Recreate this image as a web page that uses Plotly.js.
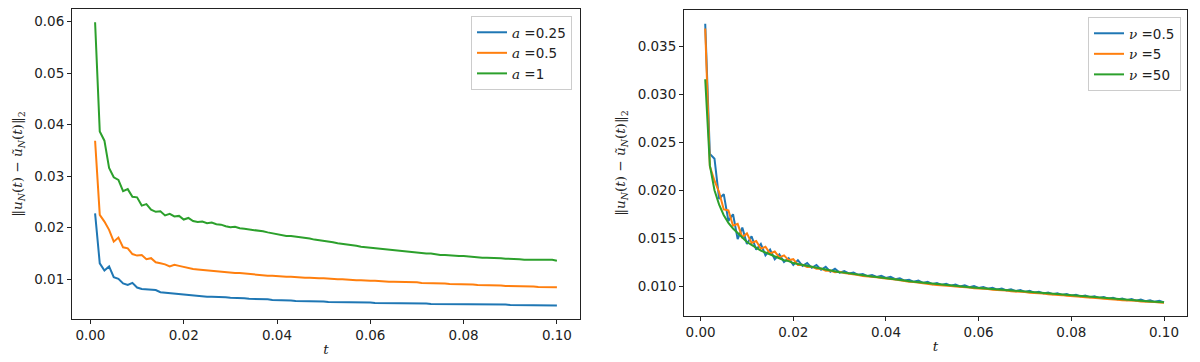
<!DOCTYPE html>
<html>
<head>
<meta charset="utf-8">
<script src="https://cdn.plot.ly/plotly-3.0.1.min.js"></script>
<style>
  body { margin: 0; background: white; }
  #chart { width: 1200px; height: 362px; }
</style>
</head>
<body>
<div id="chart"></div>
<script>
// time steps t = 0.001 ... 0.100
const t = [];
for (let i = 1; i <= 100; i++) t.push(+(i * 0.001).toFixed(3));

// left panel: error for different a
const aLabels = ['0.25', '0.5', '1'];
const errA025 = [
  0.0228, 0.0131, 0.0117, 0.0125, 0.0104, 0.0101, 0.0092, 0.0089, 0.0093, 0.0084,
  0.0081, 0.0080, 0.0079, 0.0079, 0.0075, 0.0074, 0.0074, 0.0073, 0.0072, 0.0071,
  0.0070, 0.0069, 0.0068, 0.0067, 0.0066, 0.0066, 0.0066, 0.0065, 0.0065, 0.0064,
  0.0064, 0.0063, 0.0063, 0.0062, 0.0062, 0.0061, 0.0061, 0.0061, 0.0060, 0.0060,
  0.0060, 0.0059, 0.0059, 0.0058, 0.0058, 0.0058, 0.0057, 0.0057, 0.0057, 0.0057,
  0.0056, 0.0056, 0.0056, 0.0056, 0.0055, 0.0055, 0.0055, 0.0055, 0.0055, 0.0055,
  0.0054, 0.0054, 0.0054, 0.0054, 0.0054, 0.0054, 0.0053, 0.0053, 0.0053, 0.0053,
  0.0053, 0.0053, 0.0052, 0.0052, 0.0052, 0.0052, 0.0052, 0.0052, 0.0052, 0.0052,
  0.0051, 0.0051, 0.0051, 0.0051, 0.0051, 0.0051, 0.0051, 0.0051, 0.0051, 0.0050,
  0.0050, 0.0050, 0.0050, 0.0050, 0.0050, 0.0050, 0.0050, 0.0050, 0.0049, 0.0049
];
const errA05 = [
  0.0369, 0.0225, 0.0212, 0.0196, 0.0173, 0.0181, 0.0162, 0.0160, 0.0149, 0.0146,
  0.0147, 0.0139, 0.0141, 0.0133, 0.0131, 0.0129, 0.0125, 0.0128, 0.0126, 0.0124,
  0.0121, 0.0120, 0.0119, 0.0118, 0.0117, 0.0117, 0.0116, 0.0115, 0.0114, 0.0113,
  0.0112, 0.0112, 0.0111, 0.0110, 0.0109, 0.0109, 0.0108, 0.0107, 0.0107, 0.0106,
  0.0106, 0.0105, 0.0105, 0.0104, 0.0104, 0.0103, 0.0103, 0.0102, 0.0102, 0.0102,
  0.0101, 0.0101, 0.0100, 0.0100, 0.0099, 0.0099, 0.0098, 0.0098, 0.0097, 0.0097,
  0.0097, 0.0096, 0.0096, 0.0095, 0.0095, 0.0095, 0.0094, 0.0094, 0.0094, 0.0094,
  0.0093, 0.0093, 0.0093, 0.0092, 0.0092, 0.0092, 0.0091, 0.0091, 0.0091, 0.0091,
  0.0090, 0.0090, 0.0089, 0.0089, 0.0089, 0.0088, 0.0088, 0.0088, 0.0087, 0.0087,
  0.0087, 0.0086, 0.0086, 0.0086, 0.0086, 0.0085, 0.0085, 0.0085, 0.0084, 0.00845
];
const errA1 = [
  0.0599, 0.0387, 0.0369, 0.0316, 0.0298, 0.0293, 0.0271, 0.0275, 0.0260, 0.0259,
  0.0243, 0.0246, 0.0235, 0.0231, 0.0232, 0.0224, 0.0227, 0.0222, 0.0223, 0.0216,
  0.0219, 0.0213, 0.0211, 0.0212, 0.0209, 0.0210, 0.0207, 0.0206, 0.0203, 0.0201,
  0.0202, 0.0199, 0.0198, 0.0197, 0.0195, 0.0195, 0.0193, 0.0191, 0.0189, 0.0187,
  0.0186, 0.0184, 0.0184, 0.0183, 0.0182, 0.0180, 0.0179, 0.0177, 0.0176, 0.0174,
  0.0173, 0.0172, 0.0170, 0.0169, 0.0167, 0.0166, 0.0165, 0.0163, 0.0162, 0.0161,
  0.0160, 0.0159, 0.0158, 0.0158, 0.0156, 0.0155, 0.0155, 0.0153, 0.0153, 0.0152,
  0.0151, 0.0150, 0.0150, 0.0148, 0.0147, 0.0147, 0.0146, 0.0146, 0.0145, 0.0145,
  0.0144, 0.0144, 0.0143, 0.0142, 0.0142, 0.0142, 0.0141, 0.0141, 0.0140, 0.0140,
  0.0139, 0.0139, 0.0138, 0.0138, 0.0137, 0.0138, 0.0137, 0.0137, 0.0138, 0.0136
];

// right panel: error for different nu
const nuLabels = ['0.5', '5', '50'];
const errNu05 = [
  0.0374, 0.0238, 0.0233, 0.0191, 0.0196, 0.0168, 0.0175, 0.0149, 0.0161, 0.0144,
  0.0152, 0.0138, 0.0144, 0.0132, 0.0138, 0.0128, 0.0133, 0.0125, 0.0129, 0.0122,
  0.0127, 0.0121, 0.0124, 0.0119, 0.0122, 0.0117, 0.0120, 0.0115, 0.0118, 0.0114,
  0.01156, 0.01131, 0.01141, 0.01117, 0.01126, 0.01104, 0.01116, 0.01094, 0.01106, 0.01084,
  0.01096, 0.01071, 0.01081, 0.01057, 0.01066, 0.01044, 0.01056, 0.01032, 0.01043, 0.01019,
  0.01032, 0.01011, 0.01024, 0.01003, 0.01016, 0.00995, 0.01008, 0.00987, 0.0100, 0.00979,
  0.00989, 0.00971, 0.00981, 0.00963, 0.00973, 0.00955, 0.00965, 0.00947, 0.00957, 0.00939,
  0.00949, 0.00931, 0.00941, 0.00923, 0.00933, 0.00915, 0.00925, 0.00907, 0.00917, 0.00899,
  0.00909, 0.00891, 0.00901, 0.00883, 0.00893, 0.00875, 0.00885, 0.00867, 0.00877, 0.00859,
  0.0087, 0.00853, 0.00864, 0.00847, 0.00858, 0.00841, 0.00852, 0.00835, 0.00846, 0.00829
];
const errNu5 = [
  0.0369, 0.0225, 0.0210, 0.0198, 0.0180, 0.0179, 0.0163, 0.0165, 0.0151, 0.0155,
  0.0145, 0.0147, 0.0139, 0.0141, 0.0134, 0.0136, 0.0130, 0.0132, 0.0127, 0.0128,
  0.0122, 0.01222, 0.0120, 0.01202, 0.0118, 0.01182, 0.0116, 0.01162, 0.01145, 0.01148,
  0.01135, 0.0113, 0.0112, 0.01116, 0.01104, 0.01102, 0.01094, 0.01092, 0.01084, 0.01082,
  0.01074, 0.01069, 0.01059, 0.01055, 0.01044, 0.01042, 0.01034, 0.0103, 0.01021, 0.01017,
  0.0101, 0.01009, 0.01002, 0.01001, 0.00994, 0.00993, 0.00986, 0.00985, 0.00978, 0.00977,
  0.0097, 0.00969, 0.00962, 0.00961, 0.00954, 0.00953, 0.00946, 0.00945, 0.00938, 0.00937,
  0.0093, 0.00929, 0.00922, 0.00921, 0.00914, 0.00913, 0.00906, 0.00905, 0.00898, 0.00897,
  0.0089, 0.00889, 0.00882, 0.00881, 0.00874, 0.00873, 0.00866, 0.00865, 0.00858, 0.00857,
  0.00851, 0.00851, 0.00845, 0.00845, 0.00839, 0.00839, 0.00833, 0.00833, 0.00827, 0.00825
];
const errNu50 = [
  0.0316, 0.0226, 0.0200, 0.0185, 0.0174, 0.0166, 0.0160, 0.0155, 0.0150, 0.0146,
  0.0143, 0.0140, 0.0137, 0.0135, 0.0133, 0.0131, 0.0129, 0.0127, 0.0126, 0.0124,
  0.0123, 0.0122, 0.0121, 0.0120, 0.0119, 0.0118, 0.0117, 0.0116, 0.0115, 0.01145,
  0.0114, 0.01132, 0.01125, 0.01118, 0.0111, 0.01105, 0.0110, 0.01095, 0.0109, 0.01085,
  0.0108, 0.01072, 0.01065, 0.01058, 0.0105, 0.01045, 0.0104, 0.01033, 0.01027, 0.0102,
  0.01016, 0.01012, 0.01008, 0.01004, 0.0100, 0.00996, 0.00992, 0.00988, 0.00984, 0.0098,
  0.00976, 0.00972, 0.00968, 0.00964, 0.0096, 0.00956, 0.00952, 0.00948, 0.00944, 0.0094,
  0.00936, 0.00932, 0.00928, 0.00924, 0.0092, 0.00916, 0.00912, 0.00908, 0.00904, 0.0090,
  0.00896, 0.00892, 0.00888, 0.00884, 0.0088, 0.00876, 0.00872, 0.00868, 0.00864, 0.0086,
  0.00857, 0.00854, 0.00851, 0.00848, 0.00845, 0.00842, 0.00839, 0.00836, 0.00833, 0.0083
];

const colors = ['#1f77b4', '#ff7f0e', '#2ca02c'];
const serif = '<span style="font-family:DejaVu Serif;font-style:italic">';

function makeTrace(y, name, color, xa, ya, legend) {
    return {
        x: t, y: y, name: name,
        type: 'scatter', mode: 'lines',
        line: { color: color, width: 2 },
        xaxis: xa, yaxis: ya, legend: legend
    };
}

const traces = [
    makeTrace(errA025, serif + 'a</span> =' + aLabels[0], colors[0], 'x', 'y', 'legend'),
    makeTrace(errA05, serif + 'a</span> =' + aLabels[1], colors[1], 'x', 'y', 'legend'),
    makeTrace(errA1, serif + 'a</span> =' + aLabels[2], colors[2], 'x', 'y', 'legend'),
    makeTrace(errNu05, serif + 'ν</span> =' + nuLabels[0], colors[0], 'x2', 'y2', 'legend2'),
    makeTrace(errNu5, serif + 'ν</span> =' + nuLabels[1], colors[1], 'x2', 'y2', 'legend2'),
    makeTrace(errNu50, serif + 'ν</span> =' + nuLabels[2], colors[2], 'x2', 'y2', 'legend2')
];

const yTitle = '‖<i>u</i><sub><i>N</i></sub>(<i>t</i>) − <i>ũ</i><sub><i>N</i></sub>(<i>t</i>)‖<sub>2</sub>';
const titleFont = { family: 'DejaVu Serif', size: 13.5, color: '#222' };

const axisCommon = {
    showline: true, mirror: true, linecolor: '#222', linewidth: 1,
    ticks: 'outside', ticklen: 4, tickcolor: '#222', tickwidth: 1,
    showgrid: false, zeroline: false,
    tickfont: { family: 'DejaVu Sans', size: 13.5, color: '#222' },
    automargin: false
};

const layout = {
    width: 1200, height: 362,
    margin: { l: 0, r: 0, t: 0, b: 0 },
    paper_bgcolor: 'white', plot_bgcolor: 'white',
    showlegend: true,
    xaxis: Object.assign({}, axisCommon, {
        domain: [72 / 1200, 580 / 1200], anchor: 'y',
        range: [-0.00395, 0.10495], tick0: 0, dtick: 0.02, tickformat: '.2f',
        title: { text: '<i>t</i>', font: titleFont, standoff: 2 }
    }),
    yaxis: Object.assign({}, axisCommon, {
        domain: [1 - 319 / 362, 1 - 9 / 362], anchor: 'x',
        range: [0.00229, 0.06246], tick0: 0, dtick: 0.01, tickformat: '.2f',
        title: { text: yTitle, font: titleFont, standoff: 8 }
    }),
    xaxis2: Object.assign({}, axisCommon, {
        domain: [684 / 1200, 1187 / 1200], anchor: 'y2',
        range: [-0.00358, 0.10496], tick0: 0, dtick: 0.02, tickformat: '.2f',
        title: { text: '<i>t</i>', font: titleFont, standoff: 2 }
    }),
    yaxis2: Object.assign({}, axisCommon, {
        domain: [1 - 316 / 362, 1 - 10 / 362], anchor: 'x2',
        range: [0.00687, 0.03883], tick0: 0, dtick: 0.005, tickformat: '.3f',
        title: { text: yTitle, font: titleFont, standoff: 8 }
    }),
    legend: {
        x: 572 / 1200, y: 1 - 16 / 362, xanchor: 'right', yanchor: 'top',
        bgcolor: 'rgba(255,255,255,0.8)', bordercolor: '#cccccc', borderwidth: 1,
        font: { family: 'DejaVu Sans', size: 13.5, color: '#222' }
    },
    legend2: {
        x: 1181 / 1200, y: 1 - 17 / 362, xanchor: 'right', yanchor: 'top',
        bgcolor: 'rgba(255,255,255,0.8)', bordercolor: '#cccccc', borderwidth: 1,
        font: { family: 'DejaVu Sans', size: 13.5, color: '#222' }
    }
};

Plotly.newPlot('chart', traces, layout, { staticPlot: true, displayModeBar: false });
</script>
</body>
</html>
